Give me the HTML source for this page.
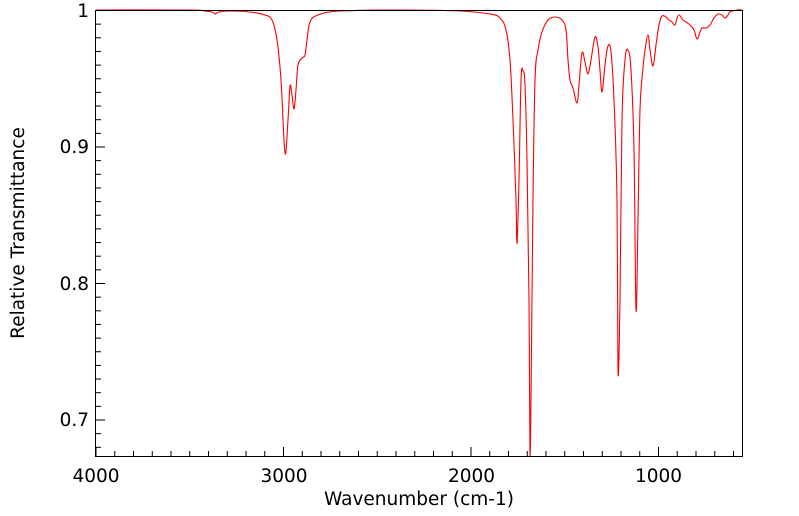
<!DOCTYPE html>
<html><head><style>body{margin:0;background:#fff}svg{display:block}text{font-family:"DejaVu Sans","Liberation Sans",sans-serif;font-size:18.5px;fill:#000}</style></head><body>
<svg width="799" height="516" viewBox="0 0 799 516">
<rect width="799" height="516" fill="#fff"/>
<path id="curve" fill="none" stroke="#ff0000" stroke-width="1.1" stroke-linejoin="round" d=""/>
<g stroke="#000" stroke-width="1" fill="none">
<rect x="95.5" y="10.5" width="647" height="446"/>
</g>
<g id="ticks" stroke="#000" stroke-width="1"></g>
<text x="96" y="482" text-anchor="middle">4000</text>
<text x="284" y="482" text-anchor="middle">3000</text>
<text x="471.5" y="482" text-anchor="middle">2000</text>
<text x="658.5" y="482" text-anchor="middle">1000</text>
<text x="89" y="17" text-anchor="end">1</text>
<text x="89" y="153" text-anchor="end">0.9</text>
<text x="89" y="290" text-anchor="end">0.8</text>
<text x="89" y="426" text-anchor="end">0.7</text>
<text x="419" y="505" text-anchor="middle">Wavenumber (cm-1)</text>
<text transform="translate(24,233) rotate(-90)" text-anchor="middle">Relative Transmittance</text>
</svg>
<script>
var g=document.getElementById('ticks'),s='';
for(var w=4000;w>=600;w-=100){var x=96+(4000-w)*0.1875;var L=(w%1000==0)?9:5;s+='<line x1="'+x+'" y1="456" x2="'+x+'" y2="'+(456-L)+'"/>';}
for(var i=0;i<=33;i++){var y=10.5+i*13.65;if(y>456)break;var L=(i%10==0)?9:5;s+='<line x1="96" y1="'+y+'" x2="'+(96+L)+'" y2="'+y+'"/>';}
g.innerHTML=s;
var pts="96,10 190,10 205,11 212,12 215,14 219,12 230,11 250,12 265,15 272,20 277,40 281,80 285,153 288,120 290,86 292,95 294,109 296,90 298,65 302,58 305,55 307,40 310,22 318,15 340,11 400,10 460,11 490,14 500,18 506,30 510,60 513,120 516,200 517,243 519,180 521,80 523,71 525,85 527,160 529,300 530,456 531,400 533,200 535,80 538,50 542,32 548,20 555,17 562,20 566,30 568,60 570,80 573,88 577,103 579,85 582,53 585,62 588,74 591,60 595,37 598,47 600,70 602,92 605,65 608,46 611,52 614,100 617,200 618,372 620,300 622,120 625,60 628,50 631,70 634,150 636,310 638,220 640,110 643,68 645,50 648,35 650,50 653,66 656,45 659,25 662,16 666,17 669,20 672,22 675,25 677,18 679,15 681,17 683,20 686,22 690,25 694,30 697,39 700,32 702,28 706,28 710,25 714,18 718,14 722,15 725,18 728,15 730,12 737,10 742,10".split(" ").map(function(p){return p.split(",").map(Number);});
var d="M"+pts[0][0]+","+pts[0][1];
for(var i=0;i<pts.length-1;i++){var p0=pts[Math.max(0,i-1)],p1=pts[i],p2=pts[i+1],p3=pts[Math.min(pts.length-1,i+2)];
var t=0.35;var c1x=p1[0]+(p2[0]-p0[0])*t/2,c1y=p1[1]+(p2[1]-p0[1])*t/2,c2x=p2[0]-(p3[0]-p1[0])*t/2,c2y=p2[1]-(p3[1]-p1[1])*t/2;
c1y=Math.min(c1y,456);c2y=Math.min(c2y,456);
d+=" C"+c1x.toFixed(2)+","+c1y.toFixed(2)+" "+c2x.toFixed(2)+","+c2y.toFixed(2)+" "+p2[0]+","+p2[1];}
document.getElementById('curve').setAttribute('d',d);
</script>
</body></html>
